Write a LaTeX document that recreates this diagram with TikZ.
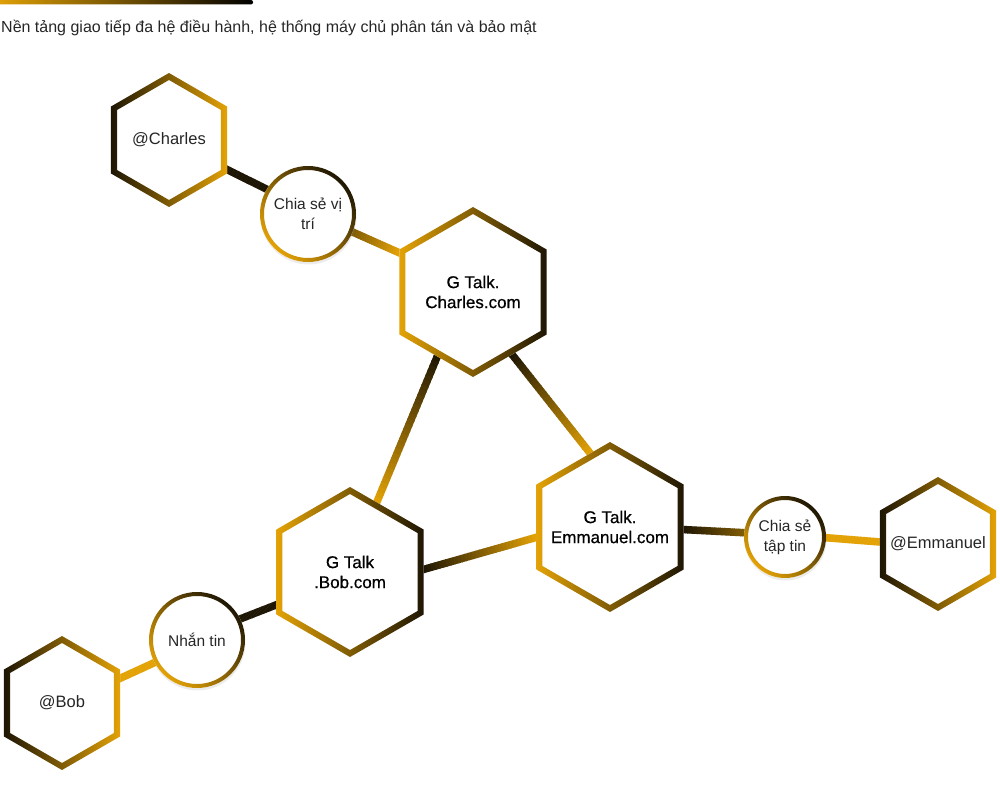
\documentclass[tikz,border=0pt]{standalone}
\usepackage{fontspec}
\setmainfont{Liberation Sans}
\newfontfamily\medfont{Liberation Sans}[FakeBold=0.6]
\usetikzlibrary{calc,shapes.geometric,shadows}
\definecolor{gold}{HTML}{E3A206}
\definecolor{dark}{HTML}{1E1604}
\colorlet{mid}{gold!50!dark}
\pgfdeclarelayer{bg}
\pgfsetlayers{bg,main}
\def\hexring#1#2#3{\shade[left color=#2,right color=#3,even odd rule]
  (#1.corner 1) -- (#1.corner 2) -- (#1.corner 3) -- (#1.corner 4) -- (#1.corner 5) -- (#1.corner 6) -- cycle
  ($(#1.corner 1)!7pt!(#1.center)$) -- ($(#1.corner 2)!7pt!(#1.center)$) -- ($(#1.corner 3)!7pt!(#1.center)$)
  -- ($(#1.corner 4)!7pt!(#1.center)$) -- ($(#1.corner 5)!7pt!(#1.center)$) -- ($(#1.corner 6)!7pt!(#1.center)$) -- cycle;}
\def\circring#1#2{\shade[bottom color=gold,top color=dark,middle color=mid,shading angle=-45,even odd rule]
  (#1.center) circle[radius=#2] (#1.center) circle[radius=#2-4pt];}
\def\gradlink#1#2#3#4{\foreach \i in {-2,...,31}{
    \pgfmathsetmacro\pct{max(0,min(100,100-(\i+0.5)*100/30))}
    \pgfmathsetmacro\ta{\i/30}
    \pgfmathsetmacro\tb{(\i+1.25)/30}
    \draw[link,draw=#3!\pct!#4] ($(#1)!\ta!(#2)$) -- ($(#1)!\tb!(#2)$);}}

\begin{document}
\begin{tikzpicture}[x=1pt,y=-1pt,
  hexnode/.style={regular polygon,regular polygon sides=6,shape border rotate=30,minimum size=#1,
    inner sep=-14pt,outer sep=0pt,fill=white,align=center,text=black!85,font=\fontsize{16.5}{20}\selectfont},
  bighex/.style={hexnode=170pt,text=black,font=\medfont\fontsize{17}{20}\selectfont},
  circnode/.style={circle,minimum size=#1,inner sep=0pt,outer sep=0pt,fill=white,align=center,
    text=black!85,font=\fontsize{15.5}{20}\selectfont,
    drop shadow={opacity=0.15,shadow xshift=0.5pt,shadow yshift=-2.5pt}},
  link/.style={line width=7.5pt}]
\useasboundingbox (0,0) rectangle (1000,789);
%%%%% TITLE %%%%%
\shade[left color=gold,right color=black,rounded corners=2pt] (-6,0) rectangle (253,4.5);
\node[anchor=base west,inner sep=0pt,text=black!85,font=\fontsize{16}{20}\selectfont] (title) at (1,33)
  {Nền tảng giao tiếp đa hệ điều hành, hệ thống máy chủ phân tán và bảo mật};

%%%%% NODES %%%%%
\node[hexnode=134pt] (charles) at (169,140) {@Charles};
\node[bighex] (gcharles) at (473,292) {G Talk.\\Charles.com};
\node[bighex] (gemmanuel) at (610,527) {G Talk.\\Emmanuel.com};
\node[bighex] (gbob) at (350,572) {G Talk\\.Bob.com};
\node[hexnode=134pt] (emmanuel) at (938,544) {@Emmanuel};
\node[hexnode=134pt] (bob) at (62,703) {@Bob};

\node[circnode=96pt] (location) at (308,214) {Chia sẻ vị\\trí};
\node[circnode=82pt] (files) at (785,537) {Chia sẻ\\tập tin};
\node[circnode=96pt] (chat) at (197,640) {Nhắn tin};

\hexring{charles}{dark}{gold}
\hexring{gcharles}{gold}{dark}
\hexring{gemmanuel}{gold}{dark}
\hexring{gbob}{gold}{dark}
\hexring{emmanuel}{dark}{gold}
\hexring{bob}{dark}{gold}
\circring{location}{48pt}
\circring{files}{41pt}
\circring{chat}{48pt}

%%%%% LINKS %%%%%
\begin{pgfonlayer}{bg}
\gradlink{charles.333}{location.149}{dark}{dark}
\gradlink{location.338}{gcharles.152}{mid}{gold}
\gradlink{gcharles.241}{gbob.69}{dark}{gold}
\gradlink{gcharles.302}{gemmanuel.105}{dark}{gold}
\gradlink{gbob.2}{gemmanuel.188}{dark}{gold}
\gradlink{gemmanuel.358}{files.174}{dark}{mid}
\gradlink{files.359}{emmanuel.178}{gold}{gold}
\gradlink{gbob.204}{chat.26}{dark}{dark}
\gradlink{chat.208}{bob.23}{gold}{gold}
\end{pgfonlayer}
\end{tikzpicture}
\end{document}
